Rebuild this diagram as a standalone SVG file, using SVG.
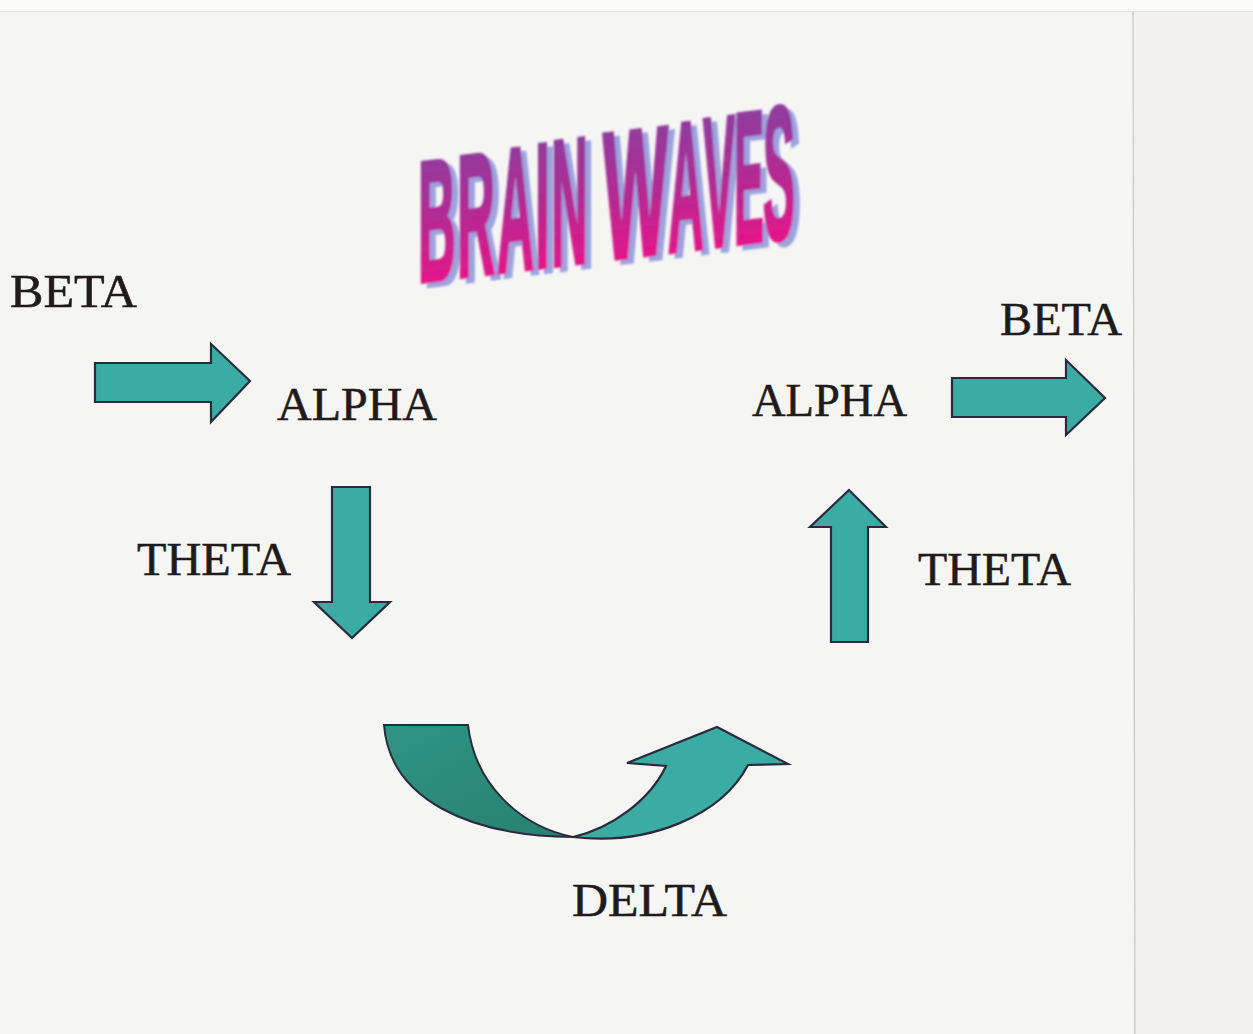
<svg xmlns="http://www.w3.org/2000/svg" width="1253" height="1034" viewBox="0 0 1253 1034">
<defs>
  <style>
    .lbl { font-family: "Liberation Serif", "Times New Roman", serif; font-size: 46px; fill: #1f1b1b; stroke: #1f1b1b; stroke-width: 0.5; }
    .arr { fill: #3aaca4; stroke: #2b2a3c; stroke-width: 2.2; stroke-linejoin: miter; }
    .ttl { font-family: "Liberation Sans", Arial, sans-serif; font-weight: bold; }
  </style>
  <linearGradient id="tg" gradientUnits="userSpaceOnUse" x1="0" y1="-140" x2="0" y2="0">
    <stop offset="0" stop-color="#8a3f9f"/>
    <stop offset="0.55" stop-color="#b42a93"/>
    <stop offset="1" stop-color="#e3178a"/>
  </linearGradient>
  <linearGradient id="dk" x1="0" y1="0" x2="1" y2="1">
    <stop offset="0" stop-color="#2f9484"/>
    <stop offset="1" stop-color="#27806f"/>
  </linearGradient>
  <filter id="blur" x="-5%" y="-5%" width="110%" height="110%">
    <feGaussianBlur stdDeviation="0.8"/>
  </filter>
</defs>
<rect x="0" y="0" width="1253" height="1034" fill="#f5f5f3"/>
<rect x="0" y="0" width="1253" height="11" fill="#fbfbf7"/>
<line x1="0" y1="11.5" x2="1253" y2="11.5" stroke="#e6e4da" stroke-width="1"/>
<rect x="1133" y="12" width="120" height="1022" fill="#f3f1f0"/>
<line x1="1133" y1="12" x2="1135" y2="1034" stroke="#c6c6c4" stroke-width="1.2"/>

<g id="title" filter="url(#blur)">
  <g transform="translate(418,282) skewY(-6.8)">
    <g transform="translate(6,5)" fill="#9ea3df" stroke="#9ea3df" stroke-width="4.5" class="ttl">
      <text x="0" y="0" font-size="172" textLength="38" lengthAdjust="spacingAndGlyphs">B</text>
      <text x="39" y="0" font-size="174" textLength="38" lengthAdjust="spacingAndGlyphs">R</text>
      <text x="79" y="0" font-size="176" textLength="37" lengthAdjust="spacingAndGlyphs">A</text>
      <text x="117" y="0" font-size="178" textLength="15" lengthAdjust="spacingAndGlyphs">I</text>
      <text x="133" y="0" font-size="180" textLength="37" lengthAdjust="spacingAndGlyphs">N</text>
      <text x="185" y="0" font-size="182" textLength="65" lengthAdjust="spacingAndGlyphs">W</text>
      <text x="250" y="0" font-size="184" textLength="36" lengthAdjust="spacingAndGlyphs">A</text>
      <text x="285" y="0" font-size="186" textLength="32" lengthAdjust="spacingAndGlyphs">V</text>
      <text x="316" y="0" font-size="188" textLength="30" lengthAdjust="spacingAndGlyphs">E</text>
      <text x="345" y="0" font-size="190" textLength="32" lengthAdjust="spacingAndGlyphs">S</text>
    </g>
    <g fill="url(#tg)" stroke="url(#tg)" stroke-width="4.5" class="ttl">
      <text x="0" y="0" font-size="172" textLength="38" lengthAdjust="spacingAndGlyphs">B</text>
      <text x="39" y="0" font-size="174" textLength="38" lengthAdjust="spacingAndGlyphs">R</text>
      <text x="79" y="0" font-size="176" textLength="37" lengthAdjust="spacingAndGlyphs">A</text>
      <text x="117" y="0" font-size="178" textLength="15" lengthAdjust="spacingAndGlyphs">I</text>
      <text x="133" y="0" font-size="180" textLength="37" lengthAdjust="spacingAndGlyphs">N</text>
      <text x="185" y="0" font-size="182" textLength="65" lengthAdjust="spacingAndGlyphs">W</text>
      <text x="250" y="0" font-size="184" textLength="36" lengthAdjust="spacingAndGlyphs">A</text>
      <text x="285" y="0" font-size="186" textLength="32" lengthAdjust="spacingAndGlyphs">V</text>
      <text x="316" y="0" font-size="188" textLength="30" lengthAdjust="spacingAndGlyphs">E</text>
      <text x="345" y="0" font-size="190" textLength="32" lengthAdjust="spacingAndGlyphs">S</text>
    </g>
  </g>
</g>

<g id="beta-left"><text class="lbl" x="10" y="307" textLength="127" lengthAdjust="spacingAndGlyphs">BETA</text></g>
<g id="alpha-left"><text class="lbl" x="277" y="420" textLength="160" lengthAdjust="spacingAndGlyphs">ALPHA</text></g>
<g id="theta-left"><text class="lbl" x="137" y="575" textLength="154" lengthAdjust="spacingAndGlyphs">THETA</text></g>
<g id="delta"><text class="lbl" x="572" y="916" textLength="155" lengthAdjust="spacingAndGlyphs">DELTA</text></g>
<g id="theta-right"><text class="lbl" x="918" y="585" textLength="153" lengthAdjust="spacingAndGlyphs">THETA</text></g>
<g id="alpha-right"><text class="lbl" x="752" y="416" textLength="155" lengthAdjust="spacingAndGlyphs">ALPHA</text></g>
<g id="beta-right"><text class="lbl" x="1000" y="335" textLength="122" lengthAdjust="spacingAndGlyphs">BETA</text></g>

<g id="connectors">
  <path class="arr" d="M95,363 L211,363 L211,344 L250,381 L211,422 L211,402 L95,402 Z"/>
  <path class="arr" d="M332,487 L370,487 L370,602 L390,602 L352,638 L314,602 L332,602 Z"/>
  <path d="M384,725 L468,725 C475,785 520,826 573,837 C470,836 390,800 384,725 Z" fill="url(#dk)" stroke="#2b2a3c" stroke-width="2"/>
  <path class="arr" d="M573,837 C650,846 722,815 748,765 L788,764 L717,727 L627,763 L666,766 C650,800 612,828 573,837 Z" stroke-width="2"/>
  <path class="arr" d="M831,642 L868,642 L868,527 L886,527 L849,490 L810,527 L831,527 Z"/>
  <path class="arr" d="M952,378 L1066,378 L1066,360 L1105,398 L1066,435 L1066,417 L952,417 Z"/>
</g>
</svg>
